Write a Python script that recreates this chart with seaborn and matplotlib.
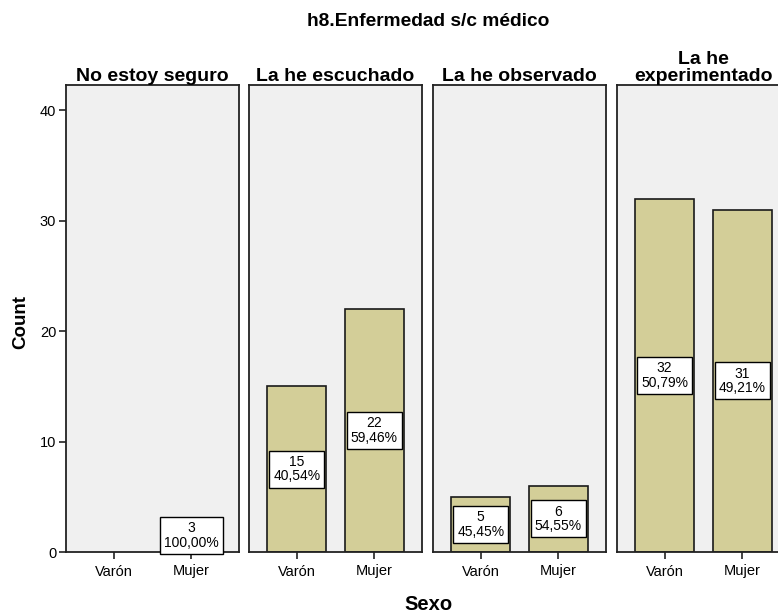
import matplotlib
matplotlib.use("Agg")
import matplotlib.pyplot as plt
import seaborn as sns
import pandas as pd

# Counts of respondents by answer (panel) and sex
panels = ["No estoy seguro", "La he escuchado", "La he observado", "La he\nexperimentado"]
sexes = ["Varón", "Mujer"]
varon_counts = [0, 15, 5, 32]
mujer_counts = [3, 22, 6, 31]
y_ticks = [0, 10, 20, 30, 40]

rows = []
for p, v, m in zip(panels, varon_counts, mujer_counts):
    rows.append({"panel": p, "Sexo": "Varón", "Count": v})
    rows.append({"panel": p, "Sexo": "Mujer", "Count": m})
df = pd.DataFrame(rows)

sns.set_theme(style="white")
plt.rcParams["font.family"] = ["Liberation Sans", "DejaVu Sans"]
plt.rcParams["text.color"] = "black"
plt.rcParams["xtick.color"] = "black"
plt.rcParams["ytick.color"] = "black"
plt.rcParams["axes.labelcolor"] = "black"

BAR = "#D3CE98"
BG = "#F0F0F0"
FRAME = "#222222"

fig = plt.figure(figsize=(7.78, 6.14), dpi=100)
W, H = 778, 614
lefts = [66, 249, 433, 617]
pw = 173
top, bottom = 85, 552

for i, (p, left) in enumerate(zip(panels, lefts)):
    ax = fig.add_axes([left / W, (H - bottom) / H, pw / W, (bottom - top) / H])
    sub = df[df["panel"] == p]
    sub = sub[sub["Count"] > 0]
    sns.barplot(data=sub, x="Sexo", y="Count", order=sexes, color=BAR,
                edgecolor="#1a1a1a", linewidth=1.2, width=0.755, saturation=1,
                ax=ax)
    ax.set_facecolor(BG)
    ax.set_xlim(-0.615, 1.615)
    ax.set_ylim(0, 42.3)
    for s in ax.spines.values():
        s.set_color(FRAME)
        s.set_linewidth(1.3)
    ax.set_xlabel("")
    ax.set_ylabel("")
    ax.set_title(p, fontsize=14, fontweight="bold", pad=3, linespacing=0.95)
    ax.tick_params(axis="x", bottom=True, length=5, width=1.2, color=FRAME,
                   labelsize=10.5, pad=4)
    ax.set_yticks(y_ticks)
    if i == 0:
        ax.tick_params(axis="y", left=True, length=5, width=1.2, color=FRAME,
                       labelsize=10.5, pad=2)
    else:
        ax.tick_params(axis="y", left=False, labelleft=False)

    total = sum(sub["Count"])
    for j, s in enumerate(sexes):
        row = sub[sub["Sexo"] == s]
        if row.empty:
            continue
        c = int(row["Count"].iloc[0])
        pct = f"{100 * c / total:.2f}".replace(".", ",") + "%"
        ax.text(j, c / 2, f"{c}\n{pct}", ha="center", va="center",
                fontsize=10, linespacing=1.05, zorder=5, clip_on=False,
                bbox=dict(boxstyle="square,pad=0.3", fc="white", ec="black",
                          lw=1.0))

fig.text(428 / W, 1 - 22 / H, "h8.Enfermedad s/c médico", ha="center",
         va="center", fontsize=13.8, fontweight="bold")
fig.text(21 / W, 1 - 322 / H, "Count", ha="center", va="center",
         rotation=90, fontsize=13.5, fontweight="bold")
fig.text(428 / W, 1 - 604 / H, "Sexo", ha="center", va="center",
         fontsize=14.5, fontweight="bold")

fig.savefig("out.png", dpi=100, facecolor="white")
